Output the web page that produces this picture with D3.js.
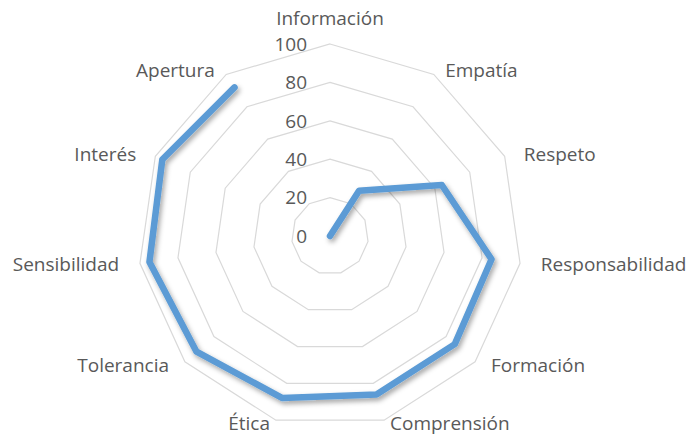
<!DOCTYPE html>
<html>
<head>
<meta charset="utf-8">
<script src="https://cdn.jsdelivr.net/npm/d3@7"></script>
<style>
  body { margin: 0; background: #fff; }
  text { font-family: "Open Sans", "Noto Sans", sans-serif; fill: #595959; }
</style>
</head>
<body>
<div id="chart"></div>
<script>
// Radar chart data
var categories = ["Información", "Empatía", "Respeto", "Responsabilidad", "Formación",
    "Comprensión", "Ética", "Tolerancia", "Sensibilidad", "Interés", "Apertura"];
var values = [0, 28, 64, 85, 86, 86, 88, 92, 95, 96, 92];
var ticks = [0, 20, 40, 60, 80, 100];

var width = 691, height = 436;
var cx = 330, cy = 236, radius = 192;

var svg = d3.select("#chart").append("svg")
    .attr("width", width)
    .attr("height", height);

var defs = svg.append("defs");
var shadow = defs.append("filter").attr("id", "shadow")
    .attr("x", "-20%").attr("y", "-20%").attr("width", "140%").attr("height", "140%");
shadow.append("feDropShadow")
    .attr("dx", 2).attr("dy", 3).attr("stdDeviation", 2.5)
    .attr("flood-color", "#000").attr("flood-opacity", 0.35);

var g = svg.append("g").attr("transform", "translate(" + cx + "," + cy + ")");

var r = d3.scaleLinear().domain([0, 100]).range([0, radius]);
var angle = d3.scalePoint().domain(categories).range([0, 2 * Math.PI * (categories.length - 1) / categories.length]);

function pt(cat, v) {
    var a = angle(cat);
    return [r(v) * Math.sin(a), -r(v) * Math.cos(a)];
}

// grid rings (polygons)
g.selectAll(".ring")
    .data(ticks.slice(1))
    .enter().append("polygon")
    .attr("points", function (t) {
        return categories.map(function (c) { return pt(c, t).join(","); }).join(" ");
    })
    .style("fill", "none")
    .style("stroke", "#d9d9d9")
    .style("stroke-width", 1.2);

// tick labels
g.selectAll(".tick")
    .data(ticks)
    .enter().append("text")
    .attr("x", -23)
    .attr("y", function (t) { return -r(t); })
    .attr("dy", "0.36em")
    .attr("text-anchor", "end")
    .style("font-size", "19px")
    .text(function (t) { return t; });

// category labels, placed next to the outer vertex
g.selectAll(".cat")
    .data(categories)
    .enter().append("text")
    .attr("x", function (c) { return pt(c, 100)[0] + 21 * Math.sin(angle(c)); })
    .attr("y", function (c) {
        var a = angle(c);
        if (a === 0) return pt(c, 100)[1] - 26;
        // keep the bottom labels inside the picture
        return Math.min(pt(c, 100)[1] - 5 * Math.cos(a), height - cy - 13);
    })
    .attr("dy", "0.36em")
    .attr("text-anchor", function (c) {
        var s = Math.sin(angle(c));
        return Math.abs(s) < 0.1 ? "middle" : (s > 0 ? "start" : "end");
    })
    .style("font-size", "19px")
    .text(function (c) { return c; });

// series line (not closed)
var line = d3.line();
g.append("path")
    .datum(categories.map(function (c, i) { return pt(c, values[i]); }))
    .attr("d", line)
    .attr("filter", "url(#shadow)")
    .style("fill", "none")
    .style("stroke", "#5b9bd5")
    .style("stroke-width", 6.5)
    .style("stroke-linejoin", "round")
    .style("stroke-linecap", "round");
</script>
</body>
</html>
